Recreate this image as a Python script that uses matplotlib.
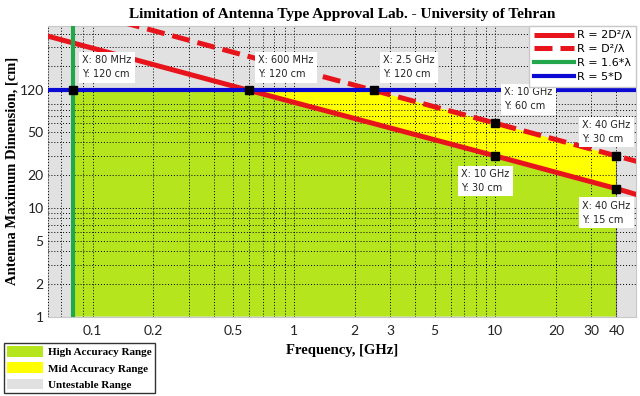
import matplotlib
matplotlib.use("Agg")
from matplotlib import pyplot as plt
from matplotlib.patches import Patch
from matplotlib.ticker import FixedLocator, NullFormatter

# data (frequency in GHz, dimension in cm)
far2_freq = [0.05, 0.6, 10, 40, 55]
far2_dim = [415, 120, 30, 15, 12.6]
far1_freq = [0.14, 2.5, 10, 40, 55]
far1_dim = [510, 120, 60, 30, 25.6]
lambda_freq = 0.08
max_dim = 120

high_x = [0.08, 0.08, 0.6, 10, 40, 40]
high_y = [1, 120, 120, 30, 15, 1]
mid_x = [0.6, 2.5, 10, 40, 40, 10]
mid_y = [120, 120, 60, 30, 15, 30]

tips = [(0.08, 120, "80 MHz", "120 cm"),
        (0.6, 120, "600 MHz", "120 cm"),
        (2.5, 120, "2.5 GHz", "120 cm"),
        (10, 60, "10 GHz", "60 cm"),
        (10, 30, "10 GHz", "30 cm"),
        (40, 30, "40 GHz", "30 cm"),
        (40, 15, "40 GHz", "15 cm")]
# (dx, dy, va) in pixels from the marker
tip_offsets = [(9, 11, "bottom"), (9, 11, "bottom"), (9, 11, "bottom"), (9, 12, "bottom"),
               (-34, -13, "top"), (-34, 12, "bottom"), (-34, -12, "top")]

xticks = [0.1, 0.2, 0.5, 1, 2, 3, 5, 10, 20, 30, 40]
xticklabels = ["0.1", "0.2", "0.5", "1", "2", "3", "5", "10", "20", "30", "40"]
yticks = [1, 2, 5, 10, 20, 50, 120]
yticklabels = ["1", "2", "5", "10", "20", "50", "120"]

GREEN_FILL = "#b5e61d"
YELLOW = "#ffff00"
GRAY = "#e1e1e1"
RED = "#e8141c"
BLUE = "#0a0ad2"
GREEN = "#22a84b"

fig = plt.figure(figsize=(6.4, 3.96), dpi=100)
ax = fig.add_axes([48 / 640, 1 - 316.5 / 396, 588 / 640, 290.5 / 396])
ax.set_facecolor(GRAY)
ax.set_xscale("log")
ax.set_yscale("log")
ax.set_xlim(0.06, 50)
ax.set_ylim(1, 470)

ax.fill(high_x, high_y, color=GREEN_FILL, lw=0, zorder=1)
ax.fill(mid_x, mid_y, color=YELLOW, lw=0, zorder=1)
ax.plot([40, 40], [1, 30], color="#808080", lw=0.8, zorder=1.5)

ax.grid(True, which="both", color="black", ls=(0, (1, 2)), lw=0.7, zorder=2)
ax.set_axisbelow(False)

l1, = ax.plot(far2_freq, far2_dim, color=RED, lw=3.6, zorder=3, solid_capstyle="butt")
l2, = ax.plot(far1_freq, far1_dim, color=RED, lw=3.6, ls=(0, (3.6, 1.6)), zorder=3)
l3 = ax.axvline(lambda_freq, color=GREEN, lw=3, zorder=3)
l4 = ax.axhline(max_dim, color=BLUE, lw=3, zorder=3)

for (fx, fy, xs, ys), (dx, dy, va) in zip(tips, tip_offsets):
    ax.plot(fx, fy, "s", color="black", ms=6, zorder=5)
    ax.annotate(f"X: {xs}\nY: {ys}", (fx, fy), xytext=(dx, dy), textcoords="offset pixels",
                fontsize=7, family="DejaVu Sans", color="#222222", linespacing=1.5,
                va=va, ha="left", zorder=6,
                bbox=dict(boxstyle="square,pad=0.35", fc="white", ec="none"))

ax.xaxis.set_major_locator(FixedLocator(xticks))
ax.set_xticklabels(xticklabels)
ax.xaxis.set_minor_formatter(NullFormatter())
ax.yaxis.set_major_locator(FixedLocator(yticks))
ax.set_yticklabels(yticklabels)
ax.yaxis.set_minor_formatter(NullFormatter())
ax.tick_params(which="both", length=0, labelsize=10, labelcolor="#222222")
ax.tick_params(axis="x", pad=6)
ax.tick_params(axis="y", pad=3)
for lab in ax.get_xticklabels() + ax.get_yticklabels():
    lab.set_family("Lato")
for s in ax.spines.values():
    s.set_color("#c8c8c8")

ax.set_title("Limitation of Antenna Type Approval Lab. - University of Tehran",
             family="Liberation Serif", weight="bold", fontsize=11, pad=6)
ax.set_xlabel("Frequency, [GHz]", family="Liberation Serif", weight="bold", fontsize=10.5)
ax.xaxis.set_label_coords(0.5, -0.095)
ax.set_ylabel("Antenna Maximum Dimension, [cm]", family="Liberation Serif", weight="bold", fontsize=10.5)
ax.yaxis.set_label_coords(-0.05, 0.5)

leg = ax.legend([l1, l2, l3, l4], ["R = 2D²/λ", "R = D²/λ", "R = 1.6*λ", "R = 5*D"],
                loc="upper right", fontsize=8, handlelength=3.6, handletextpad=0.3,
                borderaxespad=0.0, labelspacing=0.35, fancybox=False, framealpha=1,
                edgecolor="#c8c8c8", borderpad=0.4)
leg.set_zorder(7)

patches = [Patch(fc=GREEN_FILL, ec="none"), Patch(fc=YELLOW, ec="none"), Patch(fc=GRAY, ec="none")]
fig.legend(patches, ["High Accuracy Range", "Mid Accuracy Range", "Untestable Range"],
           loc="lower left", bbox_to_anchor=(4 / 640, 3 / 396),
           prop=dict(family="Liberation Serif", weight="bold", size=8),
           handlelength=3.2, handleheight=1.1, handletextpad=0.5, labelspacing=0.45,
           fancybox=False, edgecolor="#333333", framealpha=1, borderpad=0.3, borderaxespad=0)

fig.savefig("out.png", dpi=100)
